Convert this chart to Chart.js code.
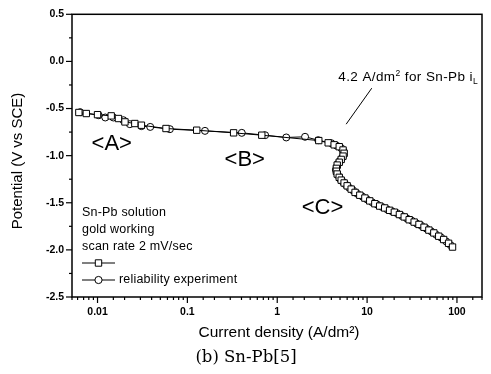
<!DOCTYPE html>
<html><head><meta charset="utf-8">
<script src="https://cdn.jsdelivr.net/npm/chart.js@4.4.1/dist/chart.umd.min.js"></script>
<style>html,body{margin:0;padding:0;background:#fff}canvas{display:block}</style>
</head><body>
<canvas id="c" width="491" height="374"></canvas>
<script>
// ---- data ----
const squareX = [0.0062,0.0075,0.0100,0.0142,0.0171,0.0202,0.0260,0.0308,0.0578,0.127,0.327,0.673,2.9,3.69,4.3,4.9,5.4,5.55,5.4,5.15,4.9,4.65,4.55,4.55,4.65,4.9,5.15,5.55,6.0,6.65,7.35,8.3,9.45,10.7,12.2,13.8,15.7,17.8,20.1,22.9,25.9,29.4,33.4,37.8,43.0,48.7,55.3,62.7,71.1,80.7,89.3];
const squareY = [-0.542,-0.553,-0.565,-0.578,-0.606,-0.642,-0.659,-0.677,-0.712,-0.730,-0.758,-0.783,-0.840,-0.864,-0.885,-0.905,-0.940,-0.975,-1.005,-1.040,-1.070,-1.100,-1.135,-1.165,-1.195,-1.230,-1.260,-1.290,-1.320,-1.355,-1.390,-1.420,-1.450,-1.480,-1.510,-1.535,-1.555,-1.580,-1.600,-1.625,-1.650,-1.680,-1.705,-1.730,-1.760,-1.790,-1.820,-1.855,-1.890,-1.930,-1.970];
const circleX = [0.0064,0.0103,0.0122,0.0150,0.0194,0.0229,0.0308,0.0386,0.0639,0.157,0.403,0.733,1.26,2.04,2.86,4.0,4.6,5.15,5.5,5.5,5.3,5.0,4.75,4.6,4.5,4.6,4.75,5.0,5.35,5.75,6.3,7.0,7.8,8.9,10.0,11.4,13.0,14.7,16.7,18.9,21.5,24.4,27.6,31.4,35.6,40.3,45.8,51.9,58.9,66.8,75.8,85.0];
const circleY = [-0.539,-0.571,-0.595,-0.595,-0.624,-0.666,-0.687,-0.695,-0.719,-0.737,-0.758,-0.783,-0.807,-0.800,-0.836,-0.868,-0.895,-0.920,-0.955,-0.990,-1.020,-1.055,-1.085,-1.120,-1.150,-1.180,-1.210,-1.245,-1.275,-1.305,-1.340,-1.370,-1.405,-1.435,-1.465,-1.495,-1.520,-1.545,-1.570,-1.590,-1.610,-1.640,-1.665,-1.690,-1.720,-1.745,-1.775,-1.805,-1.840,-1.870,-1.910,-1.950];
const xTickLabels = ['0.01','0.1','1','10','100'];
const yTickLabels = ['0.5','0.0','-0.5','-1.0','-1.5','-2.0','-2.5'];
const seriesNames = ['', 'reliability experiment'];
const legendNotes = ['Sn-Pb solution','gold working','scan rate 2 mV/sec'];
const regionLabels = ['<A>','<B>','<C>'];
const regionX = [0.0144, 0.435, 3.19];
const regionY = [-0.878, -1.048, -1.551];
const arrowX = [11.27, 5.85];
const arrowY = [-0.284, -0.666];
const noteX = 4.78, noteY = -0.168;
const xTitle = 'Current density (A/dm\u00B2)';
const yTitle = 'Potential (V vs SCE)';
const caption = '(b) Sn-Pb[5]';

const xVals = xTickLabels.map(parseFloat);
const yVals = yTickLabels.map(parseFloat);

const SANS = 'Liberation Sans, Arial, sans-serif';

const deco = {
  id: 'deco',
  afterDraw(chart) {
    const {ctx, chartArea: a, scales: {x, y}} = chart;
    ctx.save();
    ctx.strokeStyle = '#000'; ctx.fillStyle = '#000';
    ctx.lineWidth = 1.5;
    ctx.strokeRect(a.left, a.top, a.right - a.left, a.bottom - a.top);
    // ticks
    ctx.lineWidth = 1.2;
    y.ticks.forEach(t => {
      const py = y.getPixelForValue(t.value);
      const major = yVals.some(v => Math.abs(v - t.value) < 1e-6);
      const len = major ? 6 : 3;
      ctx.beginPath(); ctx.moveTo(a.left - len, py); ctx.lineTo(a.left, py); ctx.stroke();
    });
    x.ticks.forEach(t => {
      if (t.value < x.min || t.value > x.max) return;
      const px = x.getPixelForValue(t.value);
      const major = xVals.some(v => Math.abs(v - t.value) / v < 1e-6);
      const len = major ? 6 : 3;
      ctx.beginPath(); ctx.moveTo(px, a.bottom); ctx.lineTo(px, a.bottom + len); ctx.stroke();
    });
    // axis titles
    ctx.textAlign = 'center'; ctx.textBaseline = 'middle';
    ctx.font = '15.5px ' + SANS;
    ctx.fillText(xTitle, 279, 333);
    ctx.font = '15px ' + SANS;
    ctx.save(); ctx.translate(18, 161); ctx.rotate(-Math.PI / 2);
    ctx.fillText(yTitle, 0, 0); ctx.restore();
    ctx.font = '16.5px DejaVu Serif, serif';
    ctx.fillText(caption, 246, 358);
    // region labels
    ctx.font = '22px ' + SANS;
    regionLabels.forEach((s, i) => ctx.fillText(s, x.getPixelForValue(regionX[i]), y.getPixelForValue(regionY[i])));
    // arrow line
    ctx.lineWidth = 1;
    ctx.beginPath();
    ctx.moveTo(x.getPixelForValue(arrowX[0]), y.getPixelForValue(arrowY[0]));
    ctx.lineTo(x.getPixelForValue(arrowX[1]), y.getPixelForValue(arrowY[1]));
    ctx.stroke();
    // note text
    ctx.textAlign = 'left';
    ctx.letterSpacing = '0.4px';
    let nx = x.getPixelForValue(noteX), ny = y.getPixelForValue(noteY);
    const parts = [['4.2 A/dm', 0, 13.5], ['2', -4, 8.5], [' for Sn-Pb i', 0, 13.5], ['L', 4, 8.5]];
    parts.forEach(([s, dy, sz]) => { ctx.font = sz + 'px ' + SANS; ctx.fillText(s, nx, ny + dy); nx += ctx.measureText(s).width; });
    // legend block
    const lx = a.left + 10;
    ctx.letterSpacing = '0.2px';
    ctx.font = '12.5px ' + SANS;
    legendNotes.forEach((s, i) => ctx.fillText(s, lx, 213 + i * 16.7));
    const rows = [263, 280];
    rows.forEach((ry, i) => {
      ctx.lineWidth = 1;
      ctx.beginPath(); ctx.moveTo(lx, ry); ctx.lineTo(lx + 33, ry); ctx.stroke();
      ctx.fillStyle = '#fff';
      ctx.beginPath();
      if (i === 0) ctx.rect(lx + 16.5 - 3.2, ry - 3.2, 6.4, 6.4);
      else ctx.arc(lx + 16.5, ry, 3.6, 0, Math.PI * 2);
      ctx.fill(); ctx.stroke();
      ctx.fillStyle = '#000';
      if (seriesNames[i]) ctx.fillText(seriesNames[i], lx + 37, ry);
    });
    ctx.restore();
  }
};

new Chart(document.getElementById('c'), {
  type: 'scatter',
  data: {
    datasets: [
      {label: 'squares', data: squareX.map((v, i) => ({x: v, y: squareY[i]})), showLine: true,
       borderColor: '#000', borderWidth: 1, pointStyle: 'rect', pointRadius: 4.5,
       pointBackgroundColor: '#fff', pointBorderColor: '#000', pointBorderWidth: 1},
      {label: 'reliability experiment', data: circleX.map((v, i) => ({x: v, y: circleY[i]})), showLine: true,
       borderColor: '#000', borderWidth: 1, pointStyle: 'circle', pointRadius: 3.5,
       pointBackgroundColor: '#fff', pointBorderColor: '#000', pointBorderWidth: 1}
    ]
  },
  options: {
    responsive: false, animation: false, devicePixelRatio: 1,
    layout: {padding: {top: 14, right: 3, left: 0, bottom: 0}},
    plugins: {legend: {display: false}, tooltip: {enabled: false}},
    scales: {
      x: {type: 'logarithmic', min: 0.0052, max: 190,
          grid: {display: false, drawTicks: false}, border: {display: false},
          afterFit: s => { s.height = 77; },
          ticks: {autoSkip: false, maxRotation: 0, padding: 9, color: '#000',
                  font: {family: SANS, size: 10.5, weight: 'bold'},
                  callback: v => { const k = xVals.findIndex(a => Math.abs(a - v) / a < 1e-6); return k >= 0 ? xTickLabels[k] : ''; }}},
      y: {type: 'linear', min: -2.5, max: 0.5,
          grid: {display: false, drawTicks: false}, border: {display: false},
          afterFit: s => { s.width = 72; },
          ticks: {stepSize: 0.25, autoSkip: false, padding: 8, color: '#000',
                  font: {family: SANS, size: 10.5, weight: 'bold'},
                  callback: v => { const k = yVals.findIndex(a => Math.abs(a - v) < 1e-6); return k >= 0 ? yTickLabels[k] : ''; }}}
    }
  },
  plugins: [deco]
});
</script>
</body></html>
